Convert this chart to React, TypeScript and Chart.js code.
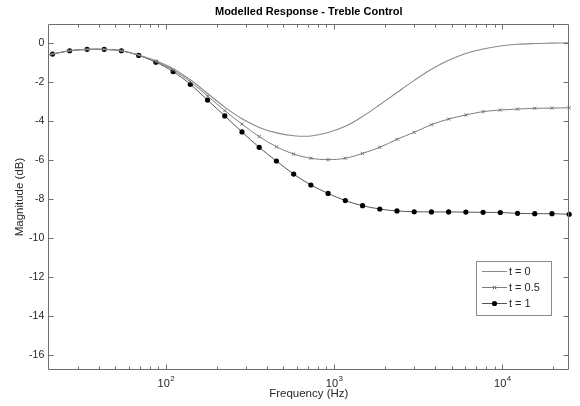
import React, { useEffect, useRef } from 'react';
import { Chart, registerables } from 'chart.js';

Chart.register(...registerables);

const TITLE = 'Modelled Response - Treble Control';
const X_LABEL = 'Frequency (Hz)';
const Y_LABEL = 'Magnitude (dB)';

const frequencies = [
  20, 21.2, 26.8, 34.0, 43.0, 54.4, 68.9, 87.2, 110.4, 139.7, 176.9, 223.9, 283.4,
  358.7, 454.1, 574.8, 727.5, 920.9, 1165.7, 1475.5, 1867.7, 2364, 2992, 3788,
  4795, 6069, 7682, 9724, 12309, 15580, 19722, 24964,
];

const seriesLabels = ['t = 0', 't = 0.5', 't = 1'];

const t0Values = [
  -0.62, -0.58, -0.41, -0.34, -0.34, -0.41, -0.63, -0.93, -1.33, -1.9, -2.6, -3.3,
  -3.9, -4.34, -4.62, -4.77, -4.78, -4.6, -4.28, -3.78, -3.18, -2.55, -1.93, -1.36,
  -0.9, -0.55, -0.32, -0.17, -0.08, -0.04, -0.02, 0.0,
];

const t05Values = [
  -0.62, -0.58, -0.41, -0.34, -0.34, -0.41, -0.64, -0.96, -1.4, -2.0, -2.73, -3.48,
  -4.17, -4.81, -5.33, -5.7, -5.92, -5.99, -5.92, -5.67, -5.36, -4.95, -4.59, -4.2,
  -3.91, -3.7, -3.53, -3.45, -3.4, -3.36, -3.35, -3.33,
];

const t1Values = [
  -0.62, -0.58, -0.41, -0.34, -0.34, -0.41, -0.65, -1.0, -1.48, -2.13, -2.94, -3.75,
  -4.57, -5.36, -6.06, -6.73, -7.29, -7.72, -8.09, -8.35, -8.52, -8.62, -8.66, -8.67,
  -8.67, -8.68, -8.69, -8.7, -8.74, -8.76, -8.76, -8.79,
];

const yTicks = [-16, -14, -12, -10, -8, -6, -4, -2, 0];
const xMajorTicks = [100, 1000, 10000];
const xMajorBase = '10';
const xMajorExponents = ['2', '3', '4'];
const xMinorTicks = [
  30, 40, 50, 60, 70, 80, 90,
  200, 300, 400, 500, 600, 700, 800, 900,
  2000, 3000, 4000, 5000, 6000, 7000, 8000, 9000,
  20000,
];

const X_MIN = 20;
const X_MAX = 25000;
const Y_MIN = -16.77;
const Y_MAX = 0.96;

const FONT = "'Liberation Sans', Arial, Helvetica, sans-serif";
const TEXT_COLOR = '#262626';
const AXIS_COLOR = '#6e6e6e';
const LIGHT_LINE = '#8a8a8a';
const GRAY_LINE = '#7d7d7d';
const DARK_LINE = '#555555';

const axesPlugin = {
  id: 'matlabAxes',
  afterDraw(chart: any) {
    const { ctx, chartArea: a, scales } = chart;
    const x = scales.x;
    const y = scales.y;
    const L = Math.round(a.left) + 0.5;
    const R = Math.round(a.right) - 0.5;
    const T = Math.round(a.top) + 0.5;
    const B = Math.round(a.bottom) - 0.5;
    ctx.save();
    ctx.strokeStyle = AXIS_COLOR;
    ctx.lineWidth = 1;
    ctx.beginPath();
    ctx.rect(L, T, R - L, B - T);
    yTicks.forEach((v) => {
      const py = Math.round(y.getPixelForValue(v)) + 0.5;
      ctx.moveTo(L, py);
      ctx.lineTo(L + 5, py);
      ctx.moveTo(R, py);
      ctx.lineTo(R - 5, py);
    });
    xMajorTicks.forEach((v) => {
      const px = Math.round(x.getPixelForValue(v)) + 0.5;
      ctx.moveTo(px, B);
      ctx.lineTo(px, B - 5);
      ctx.moveTo(px, T);
      ctx.lineTo(px, T + 5);
    });
    xMinorTicks.forEach((v) => {
      const px = Math.round(x.getPixelForValue(v)) + 0.5;
      ctx.moveTo(px, B);
      ctx.lineTo(px, B - 3);
      ctx.moveTo(px, T);
      ctx.lineTo(px, T + 3);
    });
    ctx.stroke();

    // x tick labels with superscript exponents
    ctx.fillStyle = TEXT_COLOR;
    ctx.textBaseline = 'alphabetic';
    xMajorTicks.forEach((v, i) => {
      const px = x.getPixelForValue(v);
      ctx.font = `11px ${FONT}`;
      const bw = ctx.measureText(xMajorBase).width;
      ctx.font = `8px ${FONT}`;
      const ew = ctx.measureText(xMajorExponents[i]).width;
      const start = px - (bw + ew) / 2;
      ctx.font = `11px ${FONT}`;
      ctx.textAlign = 'left';
      ctx.fillText(xMajorBase, start, 387);
      ctx.font = `8px ${FONT}`;
      ctx.fillText(xMajorExponents[i], start + bw + 0.5, 381);
    });

    // legend
    const lx = 476.5;
    const ly = 261.5;
    const lw = 75;
    const lh = 54;
    ctx.fillStyle = '#ffffff';
    ctx.fillRect(lx, ly, lw, lh);
    ctx.strokeStyle = '#8a8a8a';
    ctx.strokeRect(lx, ly, lw, lh);
    const rows = [271, 287, 303];
    chart.data.datasets.forEach((ds: any, i: number) => {
      const ry = rows[i] + 0.5;
      ctx.strokeStyle = ds.borderColor;
      ctx.lineWidth = 1;
      ctx.beginPath();
      ctx.moveTo(482, ry);
      ctx.lineTo(507, ry);
      ctx.stroke();
      const mx = 494.5;
      if (ds.legendMarker === 'cross') {
        ctx.strokeStyle = ds.pointBorderColor;
        ctx.beginPath();
        ctx.moveTo(mx - 1.8, ry - 1.8);
        ctx.lineTo(mx + 1.8, ry + 1.8);
        ctx.moveTo(mx + 1.8, ry - 1.8);
        ctx.lineTo(mx - 1.8, ry + 1.8);
        ctx.stroke();
      } else if (ds.legendMarker === 'dot') {
        ctx.fillStyle = ds.pointBackgroundColor;
        ctx.beginPath();
        ctx.arc(mx, ry, 2.6, 0, Math.PI * 2);
        ctx.fill();
      }
      ctx.fillStyle = TEXT_COLOR;
      ctx.font = `11px ${FONT}`;
      ctx.textAlign = 'left';
      ctx.textBaseline = 'middle';
      ctx.fillText(ds.label, 509, ry);
    });
    ctx.restore();
  },
};

function toPoints(values: number[]) {
  return frequencies.map((f, i) => ({ x: f, y: values[i] }));
}

const markerRadius = (r: number) => (c: any) => (c.dataIndex === 0 ? 0 : r);

export default function App() {
  const canvasRef = useRef<HTMLCanvasElement | null>(null);

  useEffect(() => {
    document.body.style.margin = '0';
    const canvas = canvasRef.current;
    if (!canvas) return;
    const chart = new Chart(canvas, {
      type: 'line',
      data: {
        datasets: [
          {
            label: seriesLabels[0],
            data: toPoints(t0Values),
            borderColor: LIGHT_LINE,
            borderWidth: 1.1,
            pointRadius: 0,
            pointHoverRadius: 0,
            tension: 0.35,
            clip: 4,
            legendMarker: 'none',
          } as any,
          {
            label: seriesLabels[1],
            data: toPoints(t05Values),
            borderColor: GRAY_LINE,
            borderWidth: 1,
            pointStyle: 'crossRot',
            pointRadius: markerRadius(2.2),
            pointBorderColor: '#707070',
            pointBackgroundColor: '#707070',
            pointBorderWidth: 1,
            tension: 0.35,
            clip: 4,
            legendMarker: 'cross',
          } as any,
          {
            label: seriesLabels[2],
            data: toPoints(t1Values),
            borderColor: DARK_LINE,
            borderWidth: 1,
            pointStyle: 'circle',
            pointRadius: markerRadius(2.6),
            pointBorderColor: '#000000',
            pointBackgroundColor: '#000000',
            pointBorderWidth: 0,
            tension: 0.35,
            clip: 4,
            legendMarker: 'dot',
          } as any,
        ],
      },
      options: {
        animation: false,
        responsive: true,
        maintainAspectRatio: false,
        devicePixelRatio: 1,
        events: [],
        layout: { padding: { left: 0, right: 10.7, top: 0, bottom: 0 } },
        plugins: {
          legend: { display: false },
          tooltip: { enabled: false },
          title: {
            display: true,
            text: TITLE,
            fullSize: false,
            color: '#000000',
            font: { family: FONT, size: 11, weight: 'bold' },
            padding: { top: 5.5, bottom: 5.3 },
          },
        },
        scales: {
          x: {
            type: 'logarithmic',
            min: X_MIN,
            max: X_MAX,
            grid: { display: false, drawTicks: false },
            border: { display: false },
            ticks: { display: false },
            title: {
              display: true,
              text: X_LABEL,
              color: TEXT_COLOR,
              font: { family: FONT, size: 11.5 },
              padding: { top: 0, bottom: 5.5 },
            },
            afterFit: (s: any) => {
              s.height = 36;
            },
          },
          y: {
            type: 'linear',
            min: Y_MIN,
            max: Y_MAX,
            grid: { display: false, drawTicks: false },
            border: { display: false },
            afterBuildTicks: (s: any) => {
              s.ticks = yTicks.map((v) => ({ value: v }));
            },
            ticks: {
              color: TEXT_COLOR,
              font: { family: FONT, size: 10.5 },
              padding: 4,
              callback: (v: any) => String(v),
            },
            title: {
              display: true,
              text: Y_LABEL,
              color: TEXT_COLOR,
              font: { family: FONT, size: 11.5 },
              padding: { top: 12.5, bottom: 0 },
            },
            afterFit: (s: any) => {
              s.width = 48.3;
            },
          },
        },
      } as any,
      plugins: [axesPlugin],
    });
    return () => chart.destroy();
  }, []);

  return (
    <div style={{ position: 'relative', width: 580, height: 406 }}>
      <canvas ref={canvasRef} />
    </div>
  );
}
